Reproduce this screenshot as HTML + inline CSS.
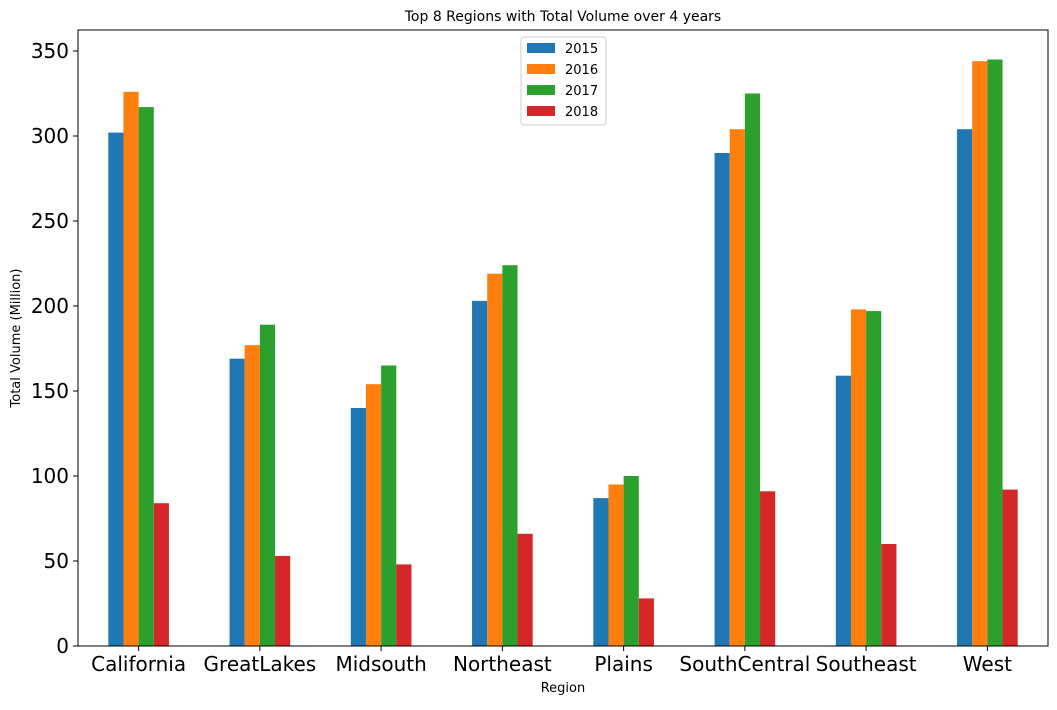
<!DOCTYPE html>
<html><head><meta charset="utf-8"><style>body{margin:0;background:#fff}svg{font-family:"DejaVu Sans","Liberation Sans",sans-serif}</style></head>
<body>
<svg id="c" width="1057" height="705"></svg>
<script>
const categories=["California","GreatLakes","Midsouth","Northeast","Plains","SouthCentral","Southeast","West"];
const s2015=[302,169,140,203,87,290,159,304];
const s2016=[326,177,154,219,95,304,198,344];
const s2017=[317,189,165,224,100,325,197,345];
const s2018=[84,53,48,66,28,91,60,92];
const seriesNames=["2015","2016","2017","2018"];
const yTicks=[0,50,100,150,200,250,300,350];
const colors=["#1f77b4","#ff7f0e","#2ca02c","#d62728"];
const series=[s2015,s2016,s2017,s2018];
const L=78,R=1048,T=30,B=646;
const NS="http://www.w3.org/2000/svg";
const svg=document.getElementById('c');
function y(v){return B-v*(595/350);}
const step=(R-L)/categories.length;
function xc(i){return L+(i+0.5)*step;}
const bw=step*0.125;
function mk(t,a,p){const e=document.createElementNS(NS,t);for(const k in a)e.setAttribute(k,a[k]);(p||svg).appendChild(e);return e;}
series.forEach((s,si)=>{s.forEach((v,i)=>{
 const r=mk('rect',{x:xc(i)-2*bw+si*bw,y:y(v),width:bw,height:B-y(v),fill:colors[si]});
 
 
});});
const ax=mk('rect',{x:L,y:T,width:R-L,height:B-T,fill:'none',stroke:'#000','stroke-width':1});

yTicks.forEach(t=>{
 mk('line',{x1:L-5,x2:L,y1:y(t),y2:y(t),stroke:'#000'});
 const tx=mk('text',{x:L-9,y:y(t)+7,'text-anchor':'end','font-size':20});tx.textContent=t;
 
});
categories.forEach((c,i)=>{
 mk('line',{x1:xc(i),x2:xc(i),y1:B,y2:B+5,stroke:'#000'});
 const tx=mk('text',{x:xc(i),y:B+25,'text-anchor':'middle','font-size':20});tx.textContent=c;
 
});
</script>
<svg style="position:absolute;left:0;top:0" width="1057" height="705">
<text x="563" y="21" text-anchor="middle" font-size="14" font-family="DejaVu Sans,sans-serif">Top 8 Regions with Total Volume over 4 years</text>
<text x="563" y="692" text-anchor="middle" font-size="13" font-family="DejaVu Sans,sans-serif">Region</text>
<text transform="translate(20,338) rotate(-90)" text-anchor="middle" font-size="13" font-family="DejaVu Sans,sans-serif">Total Volume (Million)</text>
<g font-family="DejaVu Sans,sans-serif" font-size="13">
<rect x="521" y="37" width="85" height="88" fill="#fff" stroke="#ccc" rx="3"/>
<rect x="527" y="43" width="28" height="10" fill="#1f77b4"/><text x="565" y="53">2015</text>
<rect x="527" y="64" width="28" height="10" fill="#ff7f0e"/><text x="565" y="74">2016</text>
<rect x="527" y="85" width="28" height="10" fill="#2ca02c"/><text x="565" y="95">2017</text>
<rect x="527" y="106" width="28" height="10" fill="#d62728"/><text x="565" y="116">2018</text>
</g>
</svg>
</body></html>
